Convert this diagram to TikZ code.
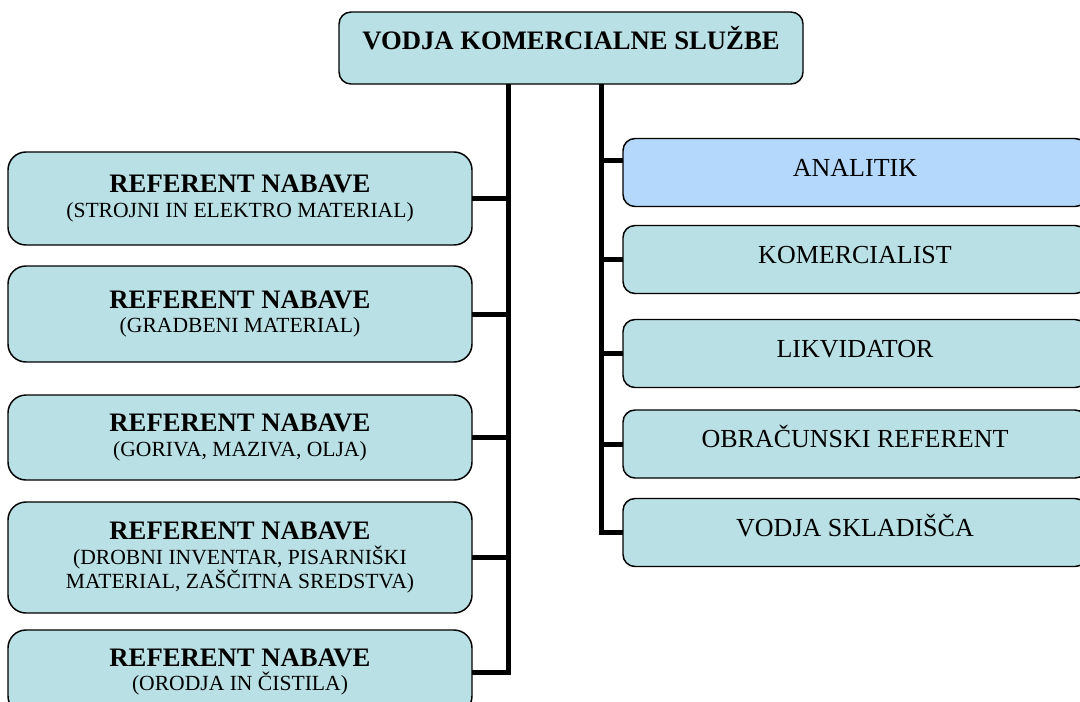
\documentclass[tikz,border=0pt]{standalone}
\usepackage{fontspec}
\setmainfont{Liberation Serif}
\usepackage{tikz}
\definecolor{boxteal}{RGB}{185,224,228}
\definecolor{boxblue}{RGB}{179,216,252}

\begin{document}
\begin{tikzpicture}[x=0.75pt,y=-0.75pt,
  box/.style={draw=black,line width=1.1pt,fill=boxteal,rounded corners=9pt,
    minimum width=348pt,inner sep=0pt,outer sep=0pt,
    font=\fontsize{19.5}{24}\selectfont},
  jobbox/.style={box,minimum height=51pt,text height=13pt,text depth=7.6pt},
  refbox/.style={box,rounded corners=13.5pt,align=center,
    font=\fontsize{16.2}{18.5}\selectfont},
  conn/.style={line width=3.75pt,line join=miter}]
\useasboundingbox (0,0) rectangle (1080,701);
\clip (0,0) rectangle (1080,701);

% the two spines
\coordinate (lsp) at (508,0);
\coordinate (rsp) at (601,0);

% head of the service
\node[box,font=\fontsize{20}{24}\selectfont\bfseries,minimum height=54pt,
  text height=13pt,text depth=11pt] (head) at (571,48) {VODJA KOMERCIALNE SLUŽBE};

% left column
\node[refbox,minimum height=69.75pt] (ref1) at (240,198.5)
  {{\fontsize{20}{24}\selectfont\bfseries REFERENT NABAVE}\\(STROJNI IN ELEKTRO MATERIAL)};
\node[refbox,minimum height=72pt] (ref2) at (240,314)
  {{\fontsize{20}{24}\selectfont\bfseries REFERENT NABAVE}\\(GRADBENI MATERIAL)};
\node[refbox,minimum height=63.75pt] (ref3) at (240,437.5)
  {{\fontsize{20}{24}\selectfont\bfseries REFERENT NABAVE}\\(GORIVA, MAZIVA, OLJA)};
\node[refbox,minimum height=83.25pt] (ref4) at (240,557.5)
  {{\fontsize{20}{24}\selectfont\bfseries REFERENT NABAVE}\\(DROBNI INVENTAR, PISARNIŠKI\\MATERIAL, ZAŠČITNA SREDSTVA)};
\node[refbox,minimum height=63pt] (ref5) at (240,672)
  {{\fontsize{20}{24}\selectfont\bfseries REFERENT NABAVE}\\(ORODJA IN ČISTILA)};

% right column
\node[jobbox,fill=boxblue] (analitik) at (855,172.5) {ANALITIK};
\node[jobbox] (komer) at (855,259.5) {KOMERCIALIST};
\node[jobbox] (likvid) at (855,353.5) {LIKVIDATOR};
\node[jobbox] (obrac) at (855,444) {OBRAČUNSKI REFERENT};
\node[jobbox] (vodja) at (855,532.5) {VODJA SKLADIŠČA};

% connectors
\draw[conn] (head.south -| lsp) -- (lsp |- ref5.east) -- (ref5.east);
\draw[conn] (head.south -| rsp) -- (rsp |- vodja.west) -- (vodja.west);
\foreach \n in {ref1,ref2,ref3,ref4} {
    \draw[conn] (\n.east) -- (\n.east -| lsp);
}
\draw[conn] ([yshift=9pt]analitik.west) -- ([yshift=9pt]analitik.west -| rsp);
\foreach \n in {komer,likvid,obrac} {
    \draw[conn] (\n.west) -- (\n.west -| rsp);
}

\end{tikzpicture}
\end{document}
